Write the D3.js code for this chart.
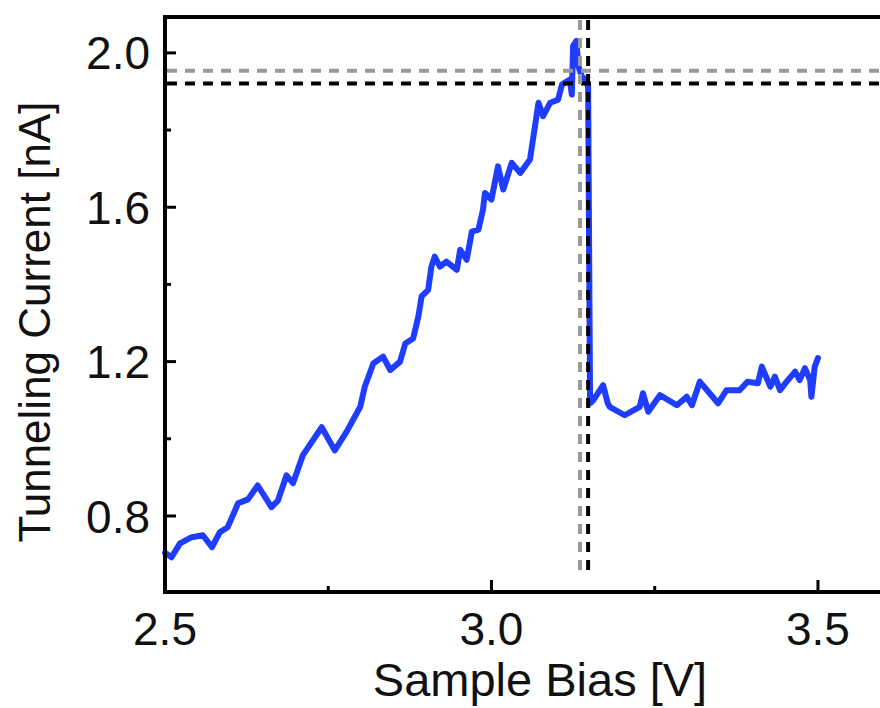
<!DOCTYPE html>
<html>
<head>
<meta charset="utf-8">
<script src="https://cdn.jsdelivr.net/npm/d3@7"></script>
<style>
  body { margin: 0; background: #fff; }
  svg { display: block; }
</style>
</head>
<body>
<div id="container"></div>
<script>
// chart size
var width = 880,
  height = 708;

// sample bias [V] and tunneling current [nA]
const bias = [
  2.500, 2.510, 2.523, 2.541, 2.558, 2.572, 2.584, 2.596, 2.612, 2.627,
  2.642, 2.663, 2.673, 2.686, 2.696, 2.711, 2.740, 2.760, 2.778, 2.799,
  2.806, 2.819, 2.834, 2.845, 2.860, 2.868, 2.880, 2.888, 2.893, 2.903,
  2.908, 2.913, 2.921, 2.931, 2.947, 2.952, 2.962, 2.970, 2.980, 2.987,
  2.990, 3.000, 3.010, 3.018, 3.031, 3.044, 3.059, 3.072, 3.079, 3.090,
  3.102, 3.108, 3.120, 3.123, 3.125, 3.130, 3.133, 3.138, 3.143, 3.148,
  3.151, 3.156, 3.171, 3.178, 3.181, 3.204, 3.227, 3.232, 3.240, 3.258,
  3.284, 3.299, 3.307, 3.319, 3.347, 3.360, 3.380, 3.392, 3.408, 3.414,
  3.427, 3.434, 3.442, 3.452, 3.465, 3.472, 3.480, 3.488, 3.490, 3.495,
  3.500
];
const current = [
  0.705, 0.693, 0.729, 0.745, 0.750, 0.719, 0.758, 0.771, 0.833, 0.843,
  0.879, 0.823, 0.840, 0.905, 0.885, 0.957, 1.030, 0.970, 1.018, 1.083,
  1.135, 1.195, 1.213, 1.178, 1.200, 1.247, 1.260, 1.317, 1.369, 1.386,
  1.446, 1.472, 1.446, 1.459, 1.438, 1.490, 1.464, 1.537, 1.542, 1.594,
  1.637, 1.620, 1.706, 1.646, 1.715, 1.689, 1.724, 1.871, 1.836, 1.871,
  1.879, 1.918, 1.931, 1.892, 2.018, 2.031, 1.966, 1.940, 1.931, 1.914,
  1.092, 1.100, 1.139, 1.092, 1.083, 1.061, 1.083, 1.118, 1.070, 1.113,
  1.087, 1.109, 1.087, 1.148, 1.092, 1.126, 1.126, 1.148, 1.144, 1.187,
  1.135, 1.161, 1.126, 1.148, 1.174, 1.152, 1.183, 1.152, 1.109, 1.187,
  1.209
];

// tick values and labels
const xMajor = [2.5, 3.0, 3.5];
const xMinor = [2.75, 3.25];
const yMajor = [0.8, 1.2, 1.6, 2.0];
const yMinor = [1.0, 1.4, 1.8];

// marker lines (grey and black dashed)
const vLines = [3.1355, 3.148];
const hLines = [1.954, 1.921];
const lineColors = ["#999999", "#000000"];

const data = bias.map((v, i) => ({ v: v, c: current[i] }));

const svg = d3
  .select("#container")
  .append("svg")
  .attr("width", width)
  .attr("height", height);

// scales
const x = d3.scaleLinear().domain([2.5, 3.595]).range([165, 880]);
const y = d3.scaleLinear().domain([0.603, 2.093]).range([592, 17]);

const font = "'Liberation Sans', Arial, sans-serif";

// the curve
const line = d3
  .line()
  .x(d => x(d.v))
  .y(d => y(d.c));

svg
  .append("path")
  .datum(data)
  .attr("d", line)
  .attr("fill", "none")
  .attr("stroke", "#1f3dff")
  .attr("stroke-width", 6)
  .attr("stroke-linejoin", "round")
  .attr("stroke-linecap", "round");

// dashed markers
svg
  .selectAll(".hline")
  .data(hLines)
  .enter()
  .append("line")
  .attr("class", "hline")
  .attr("x1", x(2.5) + 2)
  .attr("x2", width)
  .attr("y1", d => y(d))
  .attr("y2", d => y(d))
  .attr("stroke", (d, i) => lineColors[i])
  .attr("stroke-width", 4)
  .attr("stroke-dasharray", "10,8");

svg
  .selectAll(".vline")
  .data(vLines)
  .enter()
  .append("line")
  .attr("class", "vline")
  .attr("x1", d => x(d))
  .attr("x2", d => x(d))
  .attr("y1", y(2.093) + 3)
  .attr("y2", y(0.64))
  .attr("stroke", (d, i) => lineColors[i])
  .attr("stroke-width", 4)
  .attr("stroke-dasharray", "10,8");

// axes frame (left, bottom, top)
const frame = svg.append("g").attr("stroke", "#000").attr("stroke-width", 4);
frame.append("line").attr("x1", x(2.5)).attr("x2", x(2.5)).attr("y1", y(2.093) - 2).attr("y2", y(0.603) + 2);
frame.append("line").attr("x1", x(2.5)).attr("x2", width).attr("y1", y(0.603)).attr("y2", y(0.603));
frame.append("line").attr("x1", x(2.5)).attr("x2", width).attr("y1", y(2.093)).attr("y2", y(2.093));

// inward ticks
const ticks = svg.append("g").attr("stroke", "#000").attr("stroke-width", 3);
ticks.selectAll(".xmaj").data(xMajor).enter().append("line")
  .attr("x1", d => x(d)).attr("x2", d => x(d))
  .attr("y1", y(0.603)).attr("y2", y(0.603) - 12);
ticks.selectAll(".xmin").data(xMinor).enter().append("line")
  .attr("x1", d => x(d)).attr("x2", d => x(d))
  .attr("y1", y(0.603)).attr("y2", y(0.603) - 6);
ticks.selectAll(".ymaj").data(yMajor).enter().append("line")
  .attr("x1", x(2.5)).attr("x2", x(2.5) + 11)
  .attr("y1", d => y(d)).attr("y2", d => y(d));
ticks.selectAll(".ymin").data(yMinor).enter().append("line")
  .attr("x1", x(2.5)).attr("x2", x(2.5) + 6)
  .attr("y1", d => y(d)).attr("y2", d => y(d));

// tick labels
svg.selectAll(".xlab").data(xMajor).enter().append("text")
  .attr("x", d => x(d))
  .attr("y", 645)
  .attr("text-anchor", "middle")
  .attr("font-family", font)
  .attr("font-size", "46px")
  .attr("fill", "#111")
  .text(d => d.toFixed(1));

svg.selectAll(".ylab").data(yMajor).enter().append("text")
  .attr("x", 150)
  .attr("y", d => y(d))
  .attr("dy", "0.36em")
  .attr("text-anchor", "end")
  .attr("font-family", font)
  .attr("font-size", "46px")
  .attr("fill", "#111")
  .text(d => d.toFixed(1));

// axis titles
svg.append("text")
  .attr("x", 540)
  .attr("y", 696)
  .attr("text-anchor", "middle")
  .attr("font-family", font)
  .attr("font-size", "47px")
  .attr("fill", "#111")
  .text("Sample Bias [V]");

svg.append("text")
  .attr("transform", "translate(50,322) rotate(-90)")
  .attr("text-anchor", "middle")
  .attr("font-family", font)
  .attr("font-size", "44px")
  .attr("fill", "#111")
  .text("Tunneling Current [nA]");
</script>
</body>
</html>
